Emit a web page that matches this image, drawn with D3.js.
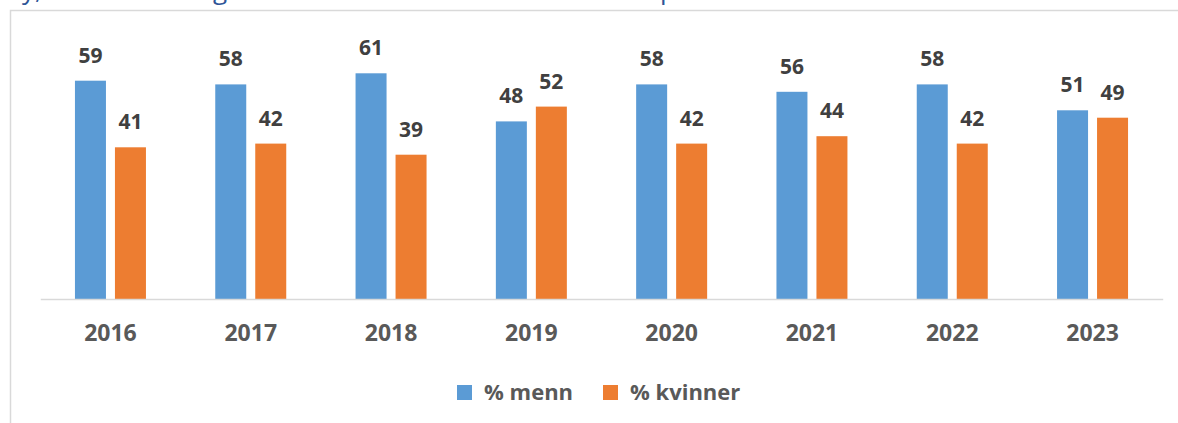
<!DOCTYPE html>
<html>
<head>
<meta charset="utf-8">
<script src="https://cdn.jsdelivr.net/npm/d3@7"></script>
<style>
  body { margin: 0; background: #fff; }
  svg { display: block; font-family: "Open Sans", sans-serif; }
</style>
</head>
<body>
<div id="chart"></div>
<script>
// Data
const years = ['2016', '2017', '2018', '2019', '2020', '2021', '2022', '2023'];
const menn = [59, 58, 61, 48, 58, 56, 58, 51];
const kvinner = [41, 42, 39, 52, 42, 44, 42, 49];
const seriesNames = ['% menn', '% kvinner'];
const seriesColors = ['#5B9BD5', '#ED7D31'];

const W = 1178, H = 423;
const plot = {left: 40.3, right: 1162.7, top: 40, bottom: 299};

const svg = d3.select('#chart').append('svg')
  .attr('width', W)
  .attr('height', H);

// title cut off at the top of the picture, only descenders visible
svg.append('text')
  .attr('y', -1)
  .attr('fill', '#2F5597')
  .style('font-size', '26px')
  .selectAll('tspan')
  .data([{x: 22, t: 'y,'}, {x: 213, t: 'g'}, {x: 660, t: 'p'}])
  .join('tspan')
  .attr('x', d => d.x)
  .text(d => d.t);

// chart frame
svg.append('rect')
  .attr('x', 10.5).attr('y', 10.5)
  .attr('width', W + 20).attr('height', H + 20)
  .attr('fill', 'none')
  .attr('stroke', '#d9d9d9')
  .attr('stroke-width', 1.5);

// Scales
const x0 = d3.scaleBand().domain(years)
  .range([plot.left, plot.right])
  .paddingInner(0.494).paddingOuter(0.247);
const x1 = d3.scaleBand().domain(seriesNames)
  .range([0, x0.bandwidth()])
  .paddingInner(0.225);
const y = d3.scaleLinear().domain([0, 70]).range([plot.bottom, plot.top]);

const rows = years.map((yr, i) => ({year: yr, values: [menn[i], kvinner[i]]}));

const groups = svg.append('g').selectAll('g.year')
  .data(rows)
  .join('g')
  .attr('class', 'year')
  .attr('transform', d => `translate(${x0(d.year)},0)`);

groups.selectAll('rect')
  .data(d => d.values.map((v, j) => ({v, s: seriesNames[j], c: seriesColors[j]})))
  .join('rect')
  .attr('x', d => x1(d.s))
  .attr('y', d => y(d.v))
  .attr('width', x1.bandwidth())
  .attr('height', d => y(0) - y(d.v))
  .attr('fill', d => d.c);

groups.selectAll('text.val')
  .data(d => d.values.map((v, j) => ({v, s: seriesNames[j]})))
  .join('text')
  .attr('class', 'val')
  .attr('x', d => x1(d.s) + x1.bandwidth() / 2)
  .attr('y', d => y(d.v) - 18)
  .attr('text-anchor', 'middle')
  .attr('fill', '#404040')
  .style('font-size', '21px')
  .style('font-weight', 700)
  .text(d => d.v);

// x axis
const xaxis = svg.append('g')
  .attr('transform', `translate(0,${plot.bottom})`)
  .call(d3.axisBottom(x0).tickSize(0).tickPadding(26).tickSizeOuter(0));
xaxis.select('.domain')
  .attr('stroke', '#d9d9d9')
  .attr('stroke-width', 1.5);
xaxis.selectAll('text')
  .attr('fill', '#595959')
  .style('font-family', '"Open Sans", sans-serif')
  .style('font-size', '23px')
  .style('font-weight', 700);

// legend
const legend = svg.append('g').attr('transform', 'translate(457,385)');
const items = [{x: 0}, {x: 146}];
seriesNames.forEach((name, i) => {
  const it = legend.append('g').attr('transform', `translate(${items[i].x},0)`);
  it.append('rect')
    .attr('width', 15).attr('height', 15)
    .attr('fill', seriesColors[i]);
  it.append('text')
    .attr('x', 27).attr('y', 15)
    .attr('fill', '#595959')
    .style('font-size', '22px')
    .style('font-weight', 700)
    .text(name);
});
</script>
</body>
</html>
